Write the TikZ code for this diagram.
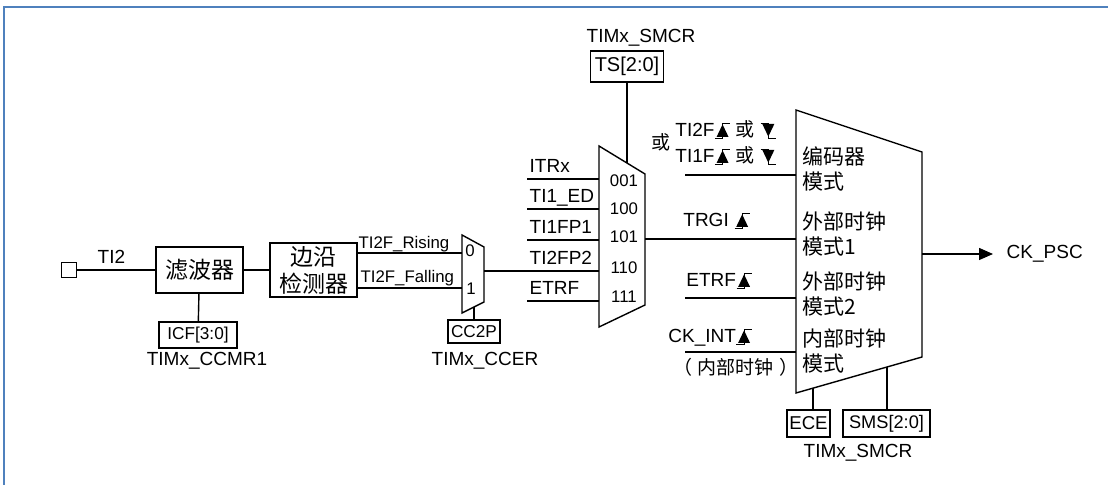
\documentclass[tikz,border=0pt]{standalone}
\usepackage{fontspec}
\setmainfont{Liberation Sans}
\newfontfamily\cjk{Noto Sans CJK SC}
\usetikzlibrary{arrows.meta, positioning}
\definecolor{framecol}{RGB}{79,129,189}

\newcommand\upedge{\tikz[x=1pt, y=1pt, baseline=0pt, line width=0.5pt]{%
    \fill (-3,0) -- (3,0) -- (0,6.3) -- cycle;
    \draw (-3.8,-0.8) -- (0,-0.8) -- (0,6.8) -- (3.8,6.8);}}
\newcommand\downedge{\tikz[x=1pt, y=1pt, baseline=0pt, line width=0.5pt]{%
    \fill (-3,6.5) -- (3,6.5) -- (0,0.2) -- cycle;
    \draw (-3.8,6.8) -- (0,6.8) -- (0,-0.8) -- (3.8,-0.8);}}

\begin{document}
\begin{tikzpicture}[
        x = 0.5pt, y = -0.5pt,
        line width = 0.7pt,
        >= {Triangle[length = 7pt, width = 6pt]},
        every node/.style = {inner sep = 0pt, font = \fontsize{9.5}{11}\selectfont},
        regbox/.style = {draw, line width = 0.7pt, font = \fontsize{8.6}{10}\selectfont},
        blockbox/.style = {draw, line width = 0.7pt, align = center, font = \cjk\fontsize{11.5}{13.5}\selectfont},
        small/.style = {font = \fontsize{8.4}{10}\selectfont},
        mode/.style = {anchor = west, align = left, font = \cjk\fontsize{10.5}{12.5}\selectfont}
    ]

    \useasboundingbox (0,0) rectangle (1108,485);
    \draw[framecol, line width = 1pt] (4,485) -- (4,7) -- (1108,7);

    \node[draw, minimum size = 7.5pt] (ti2) at (69,270) {};
    \node[blockbox, minimum width = 43.5pt, minimum height = 23pt] (filt) at (199.5,270) {滤波器};
    \node[blockbox, minimum width = 43.5pt, minimum height = 27pt] (edet) at (313.5,270) {边沿\\检测器};
    \node[regbox, minimum width = 39pt, minimum height = 13pt] (icf) at (198,335) {ICF[3:0]};
    \node[anchor = base] (ccmr) at (207,366) {TIMx\_CCMR1};
    \node[anchor = base west] (ti2l) at (97,264) {TI2};

    \path
        (ti2) edge (filt)
        (filt) edge (edet)
        (filt) edge (icf);

    \coordinate (polnw) at (462,235);
    \coordinate (polne) at (484,247);
    \coordinate (polse) at (484,302);
    \coordinate (polsw) at (462,313);
    \draw (polnw) -- (polne) -- (polse) -- (polsw) -- cycle;
    \coordinate (pol0) at (462,253);
    \coordinate (pol1) at (462,288);
    \coordinate (polout) at (484,271);
    \coordinate (polbot) at (474,307);
    \draw (edet.east |- pol0) -- (pol0);
    \draw (edet.east |- pol1) -- (pol1);
    \node[small, anchor = base west] (rise) at (358,249) {TI2F\_Rising};
    \node[small, anchor = base west] (fall) at (360,283) {TI2F\_Falling};
    \node[small, anchor = base] (sel0) at (470,257) {0};
    \node[small, anchor = base] (sel1) at (471,295) {1};
    \node[regbox, minimum width = 26pt, minimum height = 11.5pt] (cc2p) at (474,331.5) {CC2P};
    \node[anchor = base] (ccer) at (485,366) {TIMx\_CCER};
    \draw (polbot) -- (cc2p.north);

    \coordinate (tsnw) at (599,146);
    \coordinate (tsne) at (645,174);
    \coordinate (tsse) at (645,305);
    \coordinate (tssw) at (599,327);
    \draw (tsnw) -- (tsne) -- (tsse) -- (tssw) -- cycle;
    \node[regbox, minimum width = 36.5pt, minimum height = 15.5pt, font = \fontsize{10}{12}\selectfont] (ts) at (627,66.5) {TS[2:0]};
    \node[anchor = base] (smcrtop) at (641,43) {TIMx\_SMCR};
    \draw (ts.south) -- (627,163);

    \foreach \name/\y/\code/\cy in {ITRx/179/001/187, TI1\_ED/209/100/215, TI1FP1/240/101/243, TI2FP2/271/110/274, ETRF/301/111/303} {
        \node[anchor = base west] (in\code) at (529,\y-6) {\name};
        \node[small, anchor = base] (num\code) at (624,\cy) {\code};
        \draw (527,\y) -- (599,\y);
    }
    \draw (polout) -- (599,271);

    \coordinate (modnw) at (796,110);
    \coordinate (modne) at (922,152);
    \coordinate (modse) at (922,357);
    \coordinate (modsw) at (796,393);
    \draw (modnw) -- (modne) -- (modse) -- (modsw) -- cycle;

    \coordinate (tsout) at (645,239);
    \coordinate (trgi) at (796,239);
    \draw (tsout) -- (trgi);
    \draw (685,175) -- (796,175);
    \draw (685,298) -- (796,298);
    \draw (685,352) -- (796,352);

    \node (or) at (661,142) {\cjk 或};
    \node[anchor = base west] (ti2f) at (675,137) {TI2F\upedge\ {\cjk 或}\ \downedge};
    \node[anchor = base west] (ti1f) at (675,163) {TI1F\upedge\ {\cjk 或}\ \downedge};
    \node[anchor = base west] (trgil) at (683,227) {TRGI\ \upedge};
    \node[anchor = base west] (etrfl) at (686,287) {ETRF\upedge};
    \node[anchor = base west] (ckint) at (668,343) {CK\_INT\upedge};
    \node (intclk) at (736,367) {\cjk （\hspace{3pt}内部时钟\hspace{3pt}）};

    \node[mode] (enc) at (802,168.5) {编码器\\模式};
    \node[mode] (ext1) at (802,234.5) {外部时钟\\模式1};
    \node[mode] (ext2) at (802,294.5) {外部时钟\\模式2};
    \node[mode] (int) at (802,351) {内部时钟\\模式};

    \coordinate (modout) at (922,254);
    \node[anchor = west] (psc) at (993,254) {\hspace{6.5pt}CK\_PSC};
    \draw[->] (modout) -- (psc.west);

    \node[regbox, minimum width = 21.5pt, minimum height = 13.5pt, font = \fontsize{9.3}{11}\selectfont] (ece) at (808.5,423.5) {ECE};
    \node[regbox, minimum width = 43.5pt, minimum height = 13.5pt, font = \fontsize{9.1}{11}\selectfont] (sms) at (886.5,423.5) {SMS[2:0]};
    \node[anchor = base] (smcrbot) at (858,458) {TIMx\_SMCR};
    \coordinate (ecetop) at (813,388);
    \coordinate (smstop) at (887,367);
    \draw (ecetop) -- (ecetop |- ece.north);
    \draw (smstop) -- (smstop |- sms.north);
\end{tikzpicture}
\end{document}
